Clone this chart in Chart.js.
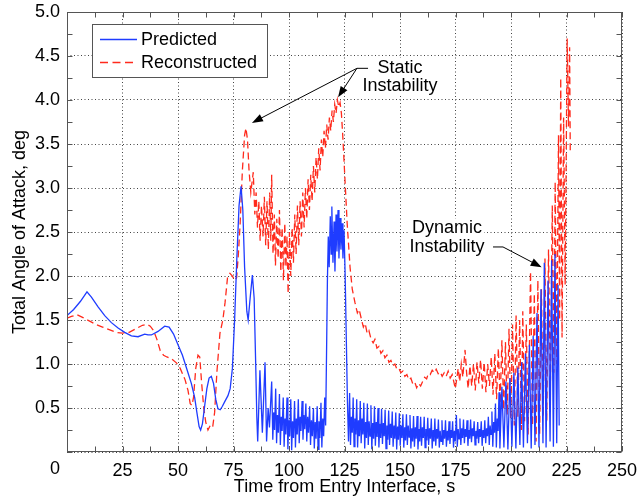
<!DOCTYPE html>
<html>
<head>
<meta charset="utf-8">
<script src="https://cdn.jsdelivr.net/npm/chart.js@4.4.1/dist/chart.umd.min.js"></script>
<style>
html,body{margin:0;padding:0;background:#fff;}
#wrap{width:642px;height:498px;position:relative;}
</style>
</head>
<body>
<div id="wrap"><canvas id="c" width="642" height="498"></canvas></div>
<script>
// ---- Tick values / labels ----
const xTickValues = [0, 25, 50, 75, 100, 125, 150, 175, 200, 225, 250];
const yTickValues = [0, 0.5, 1.0, 1.5, 2.0, 2.5, 3.0, 3.5, 4.0, 4.5, 5.0];
const xMinorStep = 12.5;
const yMinorStep = 0.25;

const seriesNames = ['Predicted', 'Reconstructed'];
const xTitle = 'Time from Entry Interface, s';
const yTitle = 'Total Angle of Attack, deg';

// ---- Predicted (time s, angle deg) ----
const predicted = [
[0,1.55],[3,1.62],[6,1.71],[9,1.82],[11,1.76],[14,1.65],[17,1.55],[20,1.47],[23,1.41],[26,1.36],[29,1.32],[32,1.31],
[35,1.34],[36.5,1.33],[38,1.33],[41,1.37],[44,1.43],[46,1.42],[48,1.34],[50,1.22],[52,1.10],[54,0.94],[56,0.78],
[57.5,0.62],[58.5,0.45],[59.5,0.29],[60.2,0.25],[61,0.32],[62,0.52],[63,0.72],[64,0.84],[65,0.86],[66,0.78],[67,0.60],
[68,0.49],[69,0.48],[70,0.52],[71,0.57],[72.5,0.64],[73.5,0.72],[74.5,0.95],[75.5,1.5],[76.5,2.2],[77.5,2.8],[78.4,3.02],
[79.2,2.75],[80,2.1],[81,1.60],[81.6,1.50],[82.5,1.75],[83.5,2.01],[84.3,1.75],[85.0,1.0],[85.5,0.4],[85.9,0.12],
[86.9,0.93],[88.0,0.22],[89.2,1.02],[89.9,0.12],[90.6,0.50],[91.2,0.28],[92.2,0.80],
[92.7,0.14],[93.1,0.45],[93.5,0.25],[94.0,0.72],
[94.4,0.10],[94.8,0.42],[95.2,0.22],[95.7,0.66],
[96.1,0.08],[96.5,0.40],[96.9,0.24],[97.4,0.62],
[97.8,0.06],[98.2,0.38],[98.6,0.20],[99.1,0.62],
[99.5,0.03],[99.9,0.36],[100.3,0.18],[100.8,0.60],
[101.2,0.02],[101.6,0.35],[102.0,0.16],[102.5,0.58],
[102.9,0.05],[103.3,0.38],[103.7,0.20],[104.2,0.60],
[104.6,0.10],[105.0,0.40],[105.4,0.24],[105.9,0.58],
[106.3,0.14],[106.7,0.42],[107.1,0.26],[107.6,0.55],
[108.0,0.12],[108.4,0.40],[108.8,0.22],[109.3,0.52],
[109.7,0.08],[110.1,0.36],[110.5,0.18],[111.0,0.50],
[111.4,0.04],[111.8,0.34],[112.2,0.15],[112.7,0.52],
[113.1,0.03],[113.5,0.35],[113.9,0.16],[114.4,0.56],
[114.8,0.05],[115.2,0.38],[115.6,0.18],[116.1,0.62],
[116.5,0.30],[116.9,1.10],[117.3,1.95],[117.7,2.45],[118.1,2.10],[118.6,2.68],[119.0,2.25],[119.3,2.79],[119.8,2.15],
[120.3,2.62],[120.7,2.05],[121.2,2.70],[121.6,2.28],[122.1,2.75],[122.5,2.20],[123.0,2.66],[123.4,2.30],[123.9,2.60],
[124.3,2.20],[124.8,2.52],[125.3,2.00],[125.8,1.30],[126.3,0.60],[126.8,0.12],
[127.3,0.67],[127.7,0.08],[128.1,0.40],[128.5,0.22],
[128.9,0.62],[129.3,0.06],[129.7,0.38],[130.1,0.20],
[130.5,0.60],[130.9,0.05],[131.3,0.36],[131.7,0.18],
[132.1,0.58],[132.5,0.10],[132.9,0.38],[133.3,0.20],
[133.7,0.56],[134.1,0.04],[134.5,0.34],[134.9,0.16],
[135.3,0.55],[135.7,0.08],[136.1,0.35],[136.5,0.18],
[136.9,0.53],[137.3,0.03],[137.7,0.33],[138.1,0.15],
[138.5,0.52],[138.9,0.07],[139.3,0.34],[139.7,0.17],
[140.1,0.50],[140.5,0.05],[140.9,0.32],[141.3,0.16],
[141.7,0.49],[142.1,0.09],[142.5,0.33],[142.9,0.18],
[143.3,0.48],[143.7,0.04],[144.1,0.30],[144.5,0.14],
[144.9,0.47],[145.3,0.08],[145.7,0.32],[146.1,0.16],
[146.5,0.46],[146.9,0.06],[147.3,0.30],[147.7,0.15],
[148.1,0.45],[148.5,0.03],[148.9,0.29],[149.3,0.14],
[149.7,0.44],[150.1,0.07],[150.5,0.30],[150.9,0.16],
[151.3,0.43],[151.7,0.05],[152.1,0.28],[152.5,0.13],
[152.9,0.43],[153.3,0.08],[153.7,0.30],[154.1,0.17],
[154.5,0.42],[154.9,0.04],[155.3,0.27],[155.7,0.12],
[156.1,0.41],[156.5,0.06],[156.9,0.28],[157.3,0.15],
[157.7,0.41],[158.1,0.03],[158.5,0.26],[158.9,0.12],
[159.3,0.40],[159.7,0.07],[160.1,0.28],[160.5,0.16],
[160.9,0.40],[161.3,0.05],[161.7,0.26],[162.1,0.13],
[162.5,0.39],[162.9,0.08],[163.3,0.27],[163.7,0.15],
[164.1,0.38],[164.5,0.04],[164.9,0.25],[165.3,0.12],
[165.7,0.38],[166.1,0.07],[166.5,0.26],[166.9,0.15],
[167.3,0.37],[167.7,0.05],[168.1,0.24],[168.5,0.12],
[168.9,0.36],[169.3,0.08],[169.7,0.25],[170.1,0.15],
[170.5,0.36],[170.9,0.06],[171.3,0.24],[171.7,0.13],
[172.1,0.35],[172.5,0.09],[172.9,0.25],[173.3,0.16],
[173.7,0.35],[174.1,0.05],[174.5,0.24],[174.9,0.12],
[175.4,0.42],[175.8,0.06],[176.2,0.26],[176.6,0.15],
[177.0,0.38],[177.4,0.08],[177.8,0.27],[178.2,0.16],
[178.6,0.37],[179.0,0.10],[179.4,0.26],[179.8,0.17],
[180.2,0.36],[180.6,0.07],[181.0,0.25],[181.4,0.15],
[181.8,0.37],[182.2,0.11],[182.6,0.27],[183.0,0.18],
[183.4,0.35],[183.8,0.08],[184.2,0.24],[184.6,0.15],
[185.0,0.34],[185.4,0.10],[185.8,0.26],[186.2,0.17],
[186.6,0.35],[187.0,0.07],[187.4,0.25],[187.8,0.16],
[188.2,0.36],[188.6,0.10],[189.0,0.27],[189.4,0.18],
[189.8,0.40],[190.2,0.08],[190.6,0.30],[191.0,0.20],
[191.4,0.46],[191.8,0.06],[192.2,0.34],[192.6,0.22],
[193.0,0.55],[193.4,0.05],[193.8,0.38],[194.2,0.24],
[194.6,0.68],[195.0,0.04],
[195.9,0.74],[196.8,0.05],[197.7,0.80],[198.6,0.03],[199.5,0.84],[200.4,0.06],[201.3,0.90],[202.2,0.04],
[203.1,0.96],[204.0,0.08],[204.8,1.02],[205.6,0.05],[206.5,1.12],[207.4,0.10],[208.3,1.22],[209.1,0.04],
[210.0,1.32],[210.8,0.08],[211.7,1.58],[212.6,0.05],[213.5,1.85],[214.4,0.10],[215.0,2.15],[215.8,0.05],
[216.7,1.95],[217.6,0.12],[218.3,2.18],[219.1,0.06],[219.8,2.25],[220.6,0.10],[221.2,1.90],[221.7,0.30]
];

// ---- Reconstructed (time s, angle deg) ----
const reconstructed = [
[0,1.52],[2,1.54],[4.5,1.56],[7,1.53],[10,1.49],[13,1.45],[16,1.42],[19,1.39],[22,1.36],[25,1.35],[28,1.36],
[31,1.40],[34,1.44],[36,1.45],[37.5,1.43],[39,1.38],[40.5,1.28],[42,1.15],[43.5,1.10],[45,1.08],[47,1.06],
[49.4,1.01],[51,0.95],[53.2,0.82],[54.5,0.70],[55.5,0.55],[56.3,0.53],[57,0.62],[58,0.95],[59,1.10],[59.8,1.08],
[60.6,0.80],[61.6,0.50],[62.5,0.34],[63.5,0.25],[64.5,0.30],[65.6,0.28],[66.5,0.45],[67.5,0.90],[68.9,1.35],
[70.2,1.50],[71.2,1.70],[72.3,1.98],[73.4,2.03],[74.5,2.00],[75.5,1.95],[76.4,1.98],[77.2,2.25],[78.0,2.6],
[79.0,3.2],[80.0,3.6],[80.6,3.68],[81.3,3.55],[82.0,3.2],[82.8,2.95],[83.9,3.18],
[84.6,2.70],[85.2,2.95],[85.8,2.55],[86.4,2.85],[87.0,2.40],[87.6,2.80],[88.3,2.45],[88.9,2.90],[89.5,2.35],
[90.1,2.85],[90.7,2.30],[91.3,2.95],[91.8,2.40],[92.2,3.15],[92.8,2.25],[93.4,2.70],[93.9,2.12],[94.5,2.65],
[95.1,2.20],[95.7,2.75],[96.3,2.05],[96.9,2.55],[97.5,1.95],[98.1,2.60],[98.6,2.10],[99.1,2.45],[99.6,1.80],
[100.2,2.50],[100.8,2.00],[101.4,2.55],[102.0,2.15],[102.6,2.70],[103.2,2.25],[103.8,2.80],[104.4,2.35],
[105.0,2.85],[105.6,2.45],[106.2,2.95],[106.8,2.55],[107.4,3.00],[108.0,2.65],[108.6,3.10],[109.2,2.75],
[109.8,3.15],[110.4,2.85],[111.0,3.25],[111.6,2.95],[112.2,3.35],[112.8,3.10],[113.4,3.45],[114.0,3.20],
[114.6,3.55],[115.2,3.35],[115.8,3.65],[116.4,3.45],[117.0,3.72],[117.6,3.55],[118.2,3.80],[118.8,3.65],
[119.4,3.88],[120.0,3.75],[120.6,3.95],[121.2,3.85],[121.8,4.00],[122.4,3.92],[123.0,3.97],[123.6,3.85],
[124.2,3.60],[125.2,3.10],[126.2,2.60],[127.5,2.10],[128.5,1.85],[129.7,1.70],[130.8,1.58],[131.6,1.62],
[132.7,1.50],[133.5,1.42],[134.3,1.46],[135.2,1.35],[136.0,1.38],[137.0,1.28],[137.9,1.24],[138.7,1.28],
[139.6,1.18],[140.5,1.20],[141.4,1.12],[142.3,1.15],[143.2,1.07],[144.1,1.10],[145.0,1.02],[145.9,1.04],
[146.8,0.98],[147.7,1.00],[148.6,0.94],[149.5,0.95],[150.4,0.90],[151.3,0.92],[152.2,0.86],[153.1,0.88],
[154.0,0.82],[154.9,0.84],[155.8,0.77],[156.7,0.79],[157.5,0.73],[158.4,0.78],[159.3,0.75],[160.2,0.80],
[161.1,0.85],[162.0,0.83],[162.7,0.89],[163.6,0.88],[164.5,0.93],[165.4,0.90],[166.3,0.94],[167.2,0.89],
[168.1,0.91],[169.0,0.86],[169.9,0.90],[170.8,0.86],[171.7,0.92],[172.6,0.84],[173.5,0.88],[174.4,0.78],
[174.9,0.72],[175.5,0.82],[176.2,0.95],[176.9,0.80],[177.6,1.00],[178.3,0.85],[179.3,1.16],[180.0,0.90],
[180.7,0.72],[181.5,0.98],[182.3,0.75],[183.1,1.00],[183.9,0.70],[184.7,1.02],[185.5,0.78],[186.3,1.05],
[187.1,0.72],[187.9,1.02],[188.7,0.68],[189.5,1.00],[190.3,0.75],[191.1,1.08],[191.9,0.65],[192.7,1.12],
[193.5,0.60],[194.3,1.18],[195.1,0.55],[195.9,1.27],[196.7,0.48],[197.5,1.25],[198.3,0.42],[199.1,1.40],
[199.9,0.38],[200.7,1.45],[201.5,0.30],[202.3,1.55],[203.1,0.40],[203.9,1.50],[204.7,0.25],[205.3,1.60],
[206.1,0.35],[206.9,1.45],[207.7,0.20],[208.8,2.05],[209.7,0.30],[210.5,1.80],[211.3,0.12],[212.1,1.95],
[212.9,0.20],[213.7,1.85],[214.5,0.40],[215.3,2.20],[216.1,0.35],[216.9,2.30],[217.7,0.70],[218.6,2.80],
[219.3,0.90],[219.9,3.07],[220.6,1.00],[221.4,3.60],[221.9,1.50],[222.4,4.25],[223.0,1.30],[223.7,3.80],
[224.4,1.90],[225.3,4.70],[225.9,3.70],[226.4,4.60],[226.7,3.40]
];

// ---- Annotations (data coordinates) ----
const staticLabel = { lines: ['Static', 'Instability'], t: 150, v: [4.365, 4.16] };
const staticElbow = [[135.6, 4.36], [130.6, 4.36]];
const staticTips = [[83.3, 3.74], [122.1, 4.03]];
const dynamicLabel = { lines: ['Dynamic', 'Instability'], t: 171.2, v: [2.54, 2.33] };
const dynamicElbow = [[191.9, 2.33], [196.4, 2.33]];
const dynamicTip = [213.8, 2.10];

const FONT = '"Liberation Sans", Arial, Helvetica, sans-serif';
const BLUE = '#1f3cff';
const RED = '#ff2a1c';

const decor = {
  id: 'decor',
  afterDatasetsDraw(chart) {
    const { ctx, chartArea: a, scales: { x, y } } = chart;
    const X = v => x.getPixelForValue(v);
    const Y = v => y.getPixelForValue(v);
    ctx.save();
    // frame
    const L = Math.round(a.left) + 0.5, R = Math.round(a.right) - 0.5;
    const T = Math.round(a.top) + 0.5, B = Math.round(a.bottom) - 0.5;
    ctx.strokeStyle = '#555';
    ctx.lineWidth = 1;
    ctx.setLineDash([]);
    ctx.strokeRect(L, T, R - L, B - T);
    // inward ticks
    ctx.beginPath();
    for (let v = 0; v <= 250 + 1e-9; v += xMinorStep) {
      const px = Math.round(X(v)) + 0.5;
      ctx.moveTo(px, B); ctx.lineTo(px, B - 5);
      ctx.moveTo(px, T); ctx.lineTo(px, T + 5);
    }
    for (let v = 0; v <= 5 + 1e-9; v += yMinorStep) {
      const py = Math.round(Y(v)) + 0.5;
      ctx.moveTo(L, py); ctx.lineTo(L + 5, py);
      ctx.moveTo(R, py); ctx.lineTo(R - 5, py);
    }
    ctx.stroke();

    // x "0" label, offset left as in the reference
    ctx.fillStyle = '#000';
    ctx.font = '18px ' + FONT;
    ctx.textAlign = 'center';
    ctx.textBaseline = 'top';
    ctx.fillText(String(xTickValues[0]), a.left - 12, a.bottom + 8);

    // legend
    const lx = a.left + 25, ly = a.top + 12, lw = 175, lh = 53;
    ctx.fillStyle = '#fff';
    ctx.fillRect(lx, ly, lw, lh);
    ctx.strokeStyle = '#555';
    ctx.strokeRect(lx + 0.5, ly + 0.5, lw, lh);
    ctx.lineWidth = 1.4;
    ctx.strokeStyle = BLUE;
    ctx.beginPath(); ctx.moveTo(lx + 8, ly + 15.5); ctx.lineTo(lx + 45, ly + 15.5); ctx.stroke();
    ctx.strokeStyle = RED;
    ctx.setLineDash([8, 4.5]);
    ctx.beginPath(); ctx.moveTo(lx + 8, ly + 38.5); ctx.lineTo(lx + 45, ly + 38.5); ctx.stroke();
    ctx.setLineDash([]);
    ctx.fillStyle = '#000';
    ctx.textAlign = 'left';
    ctx.textBaseline = 'middle';
    ctx.fillText(seriesNames[0], lx + 49, ly + 16);
    ctx.fillText(seriesNames[1], lx + 49, ly + 39);

    // annotation labels with white background
    function label(obj) {
      ctx.font = '18px ' + FONT;
      ctx.textAlign = 'center';
      ctx.textBaseline = 'middle';
      obj.lines.forEach((s, i) => {
        const w = ctx.measureText(s).width;
        const cx = X(obj.t), cy = Y(obj.v[i]);
        ctx.fillStyle = '#fff';
        ctx.fillRect(cx - w / 2 - 2, cy - 10, w + 4, 20);
      });
      obj.lines.forEach((s, i) => {
        ctx.fillStyle = '#000';
        ctx.fillText(s, X(obj.t), Y(obj.v[i]));
      });
    }
    label(staticLabel);
    label(dynamicLabel);

    function arrow(x0, y0, x1, y1) {
      const ang = Math.atan2(y1 - y0, x1 - x0);
      const hl = 11, hw = 4;
      ctx.strokeStyle = '#000';
      ctx.lineWidth = 1;
      ctx.beginPath();
      ctx.moveTo(x0, y0);
      ctx.lineTo(x1 - Math.cos(ang) * (hl - 2), y1 - Math.sin(ang) * (hl - 2));
      ctx.stroke();
      ctx.fillStyle = '#000';
      ctx.beginPath();
      ctx.moveTo(x1, y1);
      ctx.lineTo(x1 - hl * Math.cos(ang) + hw * Math.sin(ang), y1 - hl * Math.sin(ang) - hw * Math.cos(ang));
      ctx.lineTo(x1 - hl * Math.cos(ang) - hw * Math.sin(ang), y1 - hl * Math.sin(ang) + hw * Math.cos(ang));
      ctx.closePath();
      ctx.fill();
    }
    // static
    ctx.strokeStyle = '#000'; ctx.lineWidth = 1;
    ctx.beginPath();
    ctx.moveTo(X(staticElbow[0][0]), Y(staticElbow[0][1]));
    ctx.lineTo(X(staticElbow[1][0]), Y(staticElbow[1][1]));
    ctx.stroke();
    staticTips.forEach(p => arrow(X(staticElbow[1][0]), Y(staticElbow[1][1]), X(p[0]), Y(p[1])));
    // dynamic
    ctx.beginPath();
    ctx.moveTo(X(dynamicElbow[0][0]), Y(dynamicElbow[0][1]));
    ctx.lineTo(X(dynamicElbow[1][0]), Y(dynamicElbow[1][1]));
    ctx.stroke();
    arrow(X(dynamicElbow[1][0]), Y(dynamicElbow[1][1]), X(dynamicTip[0]), Y(dynamicTip[1]));
    ctx.restore();
  }
};

Chart.defaults.font.family = FONT;
Chart.defaults.font.size = 18;
Chart.defaults.color = '#000';

new Chart(document.getElementById('c'), {
  type: 'line',
  data: {
    datasets: [
      {
        label: seriesNames[0],
        data: predicted.map(p => ({ x: p[0], y: p[1] })),
        borderColor: BLUE, borderWidth: 1.3, pointRadius: 0, tension: 0, fill: false
      },
      {
        label: seriesNames[1],
        data: reconstructed.map(p => ({ x: p[0], y: p[1] })),
        borderColor: RED, borderWidth: 1.3, borderDash: [7, 4], pointRadius: 0, tension: 0, fill: false
      }
    ]
  },
  options: {
    responsive: false,
    devicePixelRatio: 1,
    animation: false,
    layout: { padding: { left: 0, right: 20, top: 12, bottom: 0 } },
    plugins: { legend: { display: false }, tooltip: { enabled: false } },
    scales: {
      x: {
        type: 'linear', min: 0, max: 250,
        afterBuildTicks: s => { s.ticks = xTickValues.map(v => ({ value: v })); },
        afterFit: s => { s.height = 46; s.paddingLeft = 0; s.paddingRight = 0; },
        ticks: { padding: 8, maxRotation: 0, autoSkip: false, callback: v => (v === 0 ? '' : String(v)) },
        grid: { color: '#444', lineWidth: 1, drawTicks: false },
        border: { display: false, dash: [1, 2.5] },
        title: { display: true, text: xTitle, font: { size: 18 }, padding: { top: 0, bottom: 0 } }
      },
      y: {
        type: 'linear', min: 0, max: 5,
        afterBuildTicks: s => { s.ticks = yTickValues.map(v => ({ value: v })); },
        afterFit: s => { s.width = 67; s.paddingTop = 0; s.paddingBottom = 0; },
        ticks: { padding: 7, autoSkip: false, callback: v => (v === 0 ? '' : v.toFixed(1)) },
        grid: { color: '#444', lineWidth: 1, drawTicks: false },
        border: { display: false, dash: [1, 2.5] },
        title: { display: true, text: yTitle, font: { size: 18 }, padding: { top: 9, bottom: 0 } }
      }
    }
  },
  plugins: [decor]
});
</script>
</body>
</html>
